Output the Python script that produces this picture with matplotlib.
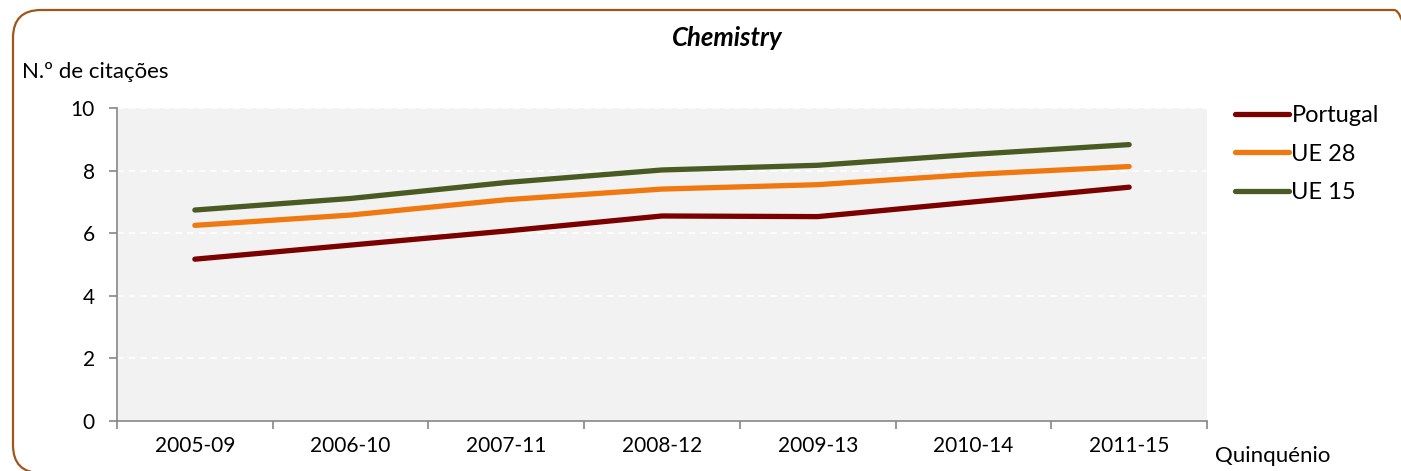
import matplotlib
matplotlib.use("Agg")
import matplotlib.pyplot as plt
from matplotlib.patches import FancyBboxPatch
import numpy as np

categories = ["2005-09", "2006-10", "2007-11", "2008-12", "2009-13", "2010-14", "2011-15"]
portugal = [5.17, 5.62, 6.07, 6.55, 6.53, 7.00, 7.47]
ue28 = [6.25, 6.58, 7.07, 7.41, 7.55, 7.88, 8.13]
ue15 = [6.74, 7.11, 7.62, 8.02, 8.17, 8.52, 8.83]
series_names = ["Portugal", "UE 28", "UE 15"]
series_colors = ["#7B0000", "#F07810", "#4A5A23"]
yticks = [0, 2, 4, 6, 8, 10]

plt.rcParams['font.family'] = ['Lato', 'DejaVu Sans']
W, H = 1401, 471
fig = plt.figure(figsize=(W/100, H/100), dpi=100)

# rounded border (display/pixel coordinates)
border = FancyBboxPatch((13, -2), 1422-13, 471-10+2,
                        boxstyle="round,pad=0,rounding_size=28",
                        transform=None, fill=False,
                        edgecolor="#A0561A", linewidth=1.6, clip_on=False)
fig.patches.append(border)

ax = fig.add_axes([117/W, 1-421/H, (1207-117)/W, (421-108)/H])
ax.set_facecolor("#F2F2F2")
x = np.arange(len(categories))
for vals, name, col in zip([portugal, ue28, ue15], series_names, series_colors):
    ax.plot(x, vals, color=col, lw=3.8, solid_capstyle='round', label=name)

ax.set_xlim(-0.5, len(categories) - 0.5)
ax.set_ylim(0, 10)
ax.set_yticks(yticks)
ax.set_yticklabels([str(v) for v in yticks], fontsize=15)
ax.set_xticks(x)
ax.set_xticklabels(categories, fontsize=15)
ax.tick_params(axis='x', which='major', length=0, pad=11)
ax.set_xticks(np.arange(-0.5, len(categories), 1.0), minor=True)
ax.tick_params(axis='x', which='minor', length=6, color="#868686", width=1.2)
ax.tick_params(axis='y', length=6, color="#868686", width=1.2, pad=10)
ax.yaxis.grid(True, color='white', linestyle=(0, (4, 3)), linewidth=1.2)
ax.set_axisbelow(True)
for s in ['top', 'right']:
    ax.spines[s].set_visible(False)
for s in ['left', 'bottom']:
    ax.spines[s].set_color("#868686")
    ax.spines[s].set_linewidth(1.2)

fig.text(727/W, 1-38/H, "Chemistry", fontsize=18.5, fontweight='bold',
         fontstyle='italic', ha='center', va='center')
fig.text(22/W, 1-72/H, "N.º de citações", fontsize=16, ha='left', va='center')
fig.text(1215/W, 1-456/H, "Quinquénio", fontsize=16, ha='left', va='center')

leg = ax.legend(loc='upper left', bbox_to_anchor=(1223/W, 1-93/H),
                bbox_transform=fig.transFigure, frameon=False, fontsize=17,
                handlelength=2.3, handletextpad=0.1, labelspacing=0.75,
                borderpad=0)

fig.savefig("out.png", dpi=100)
